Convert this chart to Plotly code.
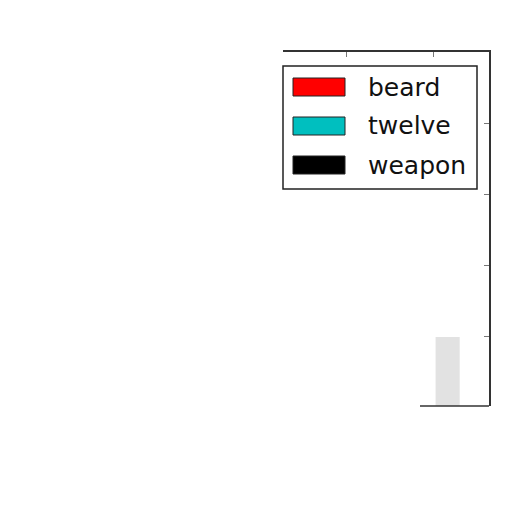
import plotly.graph_objects as go

# legend entries
names = ['beard', 'twelve', 'weapon']
colors = ['#ff0000', '#00bfbf', '#000000']

# the only visible bar (faded grey)
bar_x = [1.17]
bar_y = [1.0]

W = H = 512
OFF = 8  # page body margin
L, R, T, B = 283, 489, 52, 406  # plot frame in window pixels


def px_x(p):
    return (p - L) / (R - L)


def px_y(p):
    return (B - p) / (B - T)


fig = go.Figure()
fig.add_trace(go.Bar(x=bar_x, y=bar_y, width=0.28,
                     marker=dict(color='#e2e2e2', line=dict(width=0)),
                     showlegend=False, hoverinfo='none'))

shapes = []
annotations = []
# legend box
shapes.append(dict(type='rect', xref='paper', yref='paper',
                   x0=px_x(283), x1=px_x(477), y0=px_y(189), y1=px_y(66),
                   line=dict(color='#222', width=1.5), fillcolor='white', layer='above'))
for i, (n, c) in enumerate(zip(names, colors)):
    yc = 87 + i * 39
    shapes.append(dict(type='rect', xref='paper', yref='paper',
                       x0=px_x(293), x1=px_x(345), y0=px_y(yc + 9), y1=px_y(yc - 9),
                       line=dict(color='#222', width=1), fillcolor=c, layer='above'))
    annotations.append(dict(text=n, xref='paper', yref='paper',
                            x=px_x(366), y=px_y(yc), xanchor='left', yanchor='middle',
                            showarrow=False, font=dict(size=25, color='#111',
                                                       family='DejaVu Sans')))
# partial bottom spine
shapes.append(dict(type='line', xref='paper', yref='paper',
                   x0=px_x(420), x1=1, y0=0, y1=0,
                   line=dict(color='#333', width=1.5)))

axis_common = dict(showgrid=False, zeroline=False, showticklabels=False,
                   showline=True, linecolor='#333', linewidth=1.5,
                   ticks='inside', ticklen=5, tickcolor='#777')

fig.update_layout(
    width=W, height=H,
    margin=dict(l=L - OFF, r=W + OFF - R, t=T - OFF, b=H + OFF - B, pad=0),
    paper_bgcolor='white', plot_bgcolor='white',
    showlegend=False,
    xaxis=dict(axis_common, side='top', range=[-0.744, 1.651],
               tickvals=[0, 1]),
    yaxis=dict(axis_common, side='right', range=[0.03, 5.0],
               tickvals=[1, 2, 3, 4]),
    shapes=shapes, annotations=annotations,
)

fig.write_html("out.html")
